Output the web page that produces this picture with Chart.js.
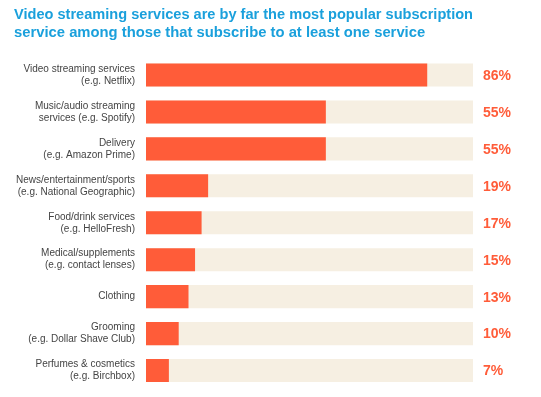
<!DOCTYPE html>
<html>
<head>
<meta charset="utf-8">
<style>
  html, body { margin: 0; padding: 0; background: #fff; }
  #wrap { width: 541px; height: 397px; }
  canvas { display: block; }
</style>
<script src="https://cdn.jsdelivr.net/npm/chart.js@4/dist/chart.umd.min.js"></script>
</head>
<body>
<div id="wrap"><canvas id="myChart" width="541" height="397"></canvas></div>
<script>
var categories = [
  ['Video streaming services', '(e.g. Netflix)'],
  ['Music/audio streaming', 'services (e.g. Spotify)'],
  ['Delivery', '(e.g. Amazon Prime)'],
  ['News/entertainment/sports', '(e.g. National Geographic)'],
  ['Food/drink services', '(e.g. HelloFresh)'],
  ['Medical/supplements', '(e.g. contact lenses)'],
  'Clothing',
  ['Grooming', '(e.g. Dollar Shave Club)'],
  ['Perfumes & cosmetics', '(e.g. Birchbox)']
];
var shares = [86, 55, 55, 19, 17, 15, 13, 10, 7];
var fullTrack = [100, 100, 100, 100, 100, 100, 100, 100, 100];

var orange = '#ff5c39';

// percentage text to the right of each track
var valueLabels = {
  id: 'valueLabels',
  afterDatasetsDraw: function(chart) {
    var ctx = chart.ctx;
    var meta = chart.getDatasetMeta(1);
    ctx.save();
    ctx.fillStyle = orange;
    ctx.font = 'bold 14px "Liberation Sans", Arial, sans-serif';
    ctx.textAlign = 'left';
    ctx.textBaseline = 'middle';
    meta.data.forEach(function(bar, i) {
      ctx.fillText(shares[i] + '%', chart.chartArea.right + 10, bar.y + 1);
    });
    ctx.restore();
  }
};

var ctx = 'myChart';
// eslint-disable-next-line
var myChart = new Chart(ctx, {
  type: 'bar',
  data: {
    labels: categories,
    datasets: [{
      data: fullTrack,
      backgroundColor: '#f6efe2',
      grouped: false,
      order: 2,
      barPercentage: 1,
      categoryPercentage: 0.625
    }, {
      data: shares,
      backgroundColor: orange,
      grouped: false,
      order: 1,
      barPercentage: 1,
      categoryPercentage: 0.625
    }]
  },
  options: {
    indexAxis: 'y',
    responsive: false,
    animation: false,
    layout: {
      padding: { top: 6, right: 68, bottom: 8, left: 14 }
    },
    scales: {
      x: {
        display: false,
        min: 0,
        max: 100
      },
      y: {
        afterFit: function(scale) {
          scale.width = 132;
          scale.paddingTop = 0;
          scale.paddingBottom = 0;
        },
        grid: { display: false, drawTicks: false },
        border: { display: false },
        ticks: {
          padding: 11,
          color: '#444',
          font: { family: '"Liberation Sans", Arial, sans-serif', size: 10, lineHeight: 1.2 }
        }
      }
    },
    plugins: {
      legend: { display: false },
      tooltip: { enabled: false },
      title: {
        display: true,
        align: 'start',
        text: ['Video streaming services are by far the most popular subscription',
               'service among those that subscribe to at least one service'],
        color: '#1aa0dc',
        font: { family: '"Liberation Sans", Arial, sans-serif', size: 14.8, weight: 'bold', lineHeight: 1.2 },
        padding: { top: 0, bottom: 15 }
      }
    }
  },
  plugins: [valueLabels]
});
</script>
</body>
</html>
